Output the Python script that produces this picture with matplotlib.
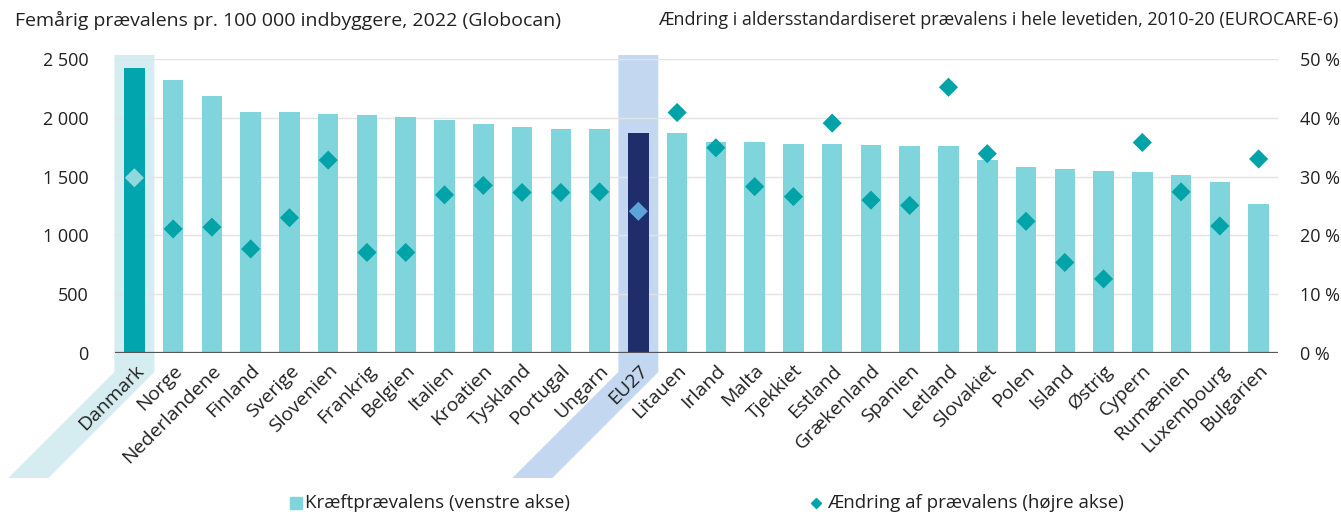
import matplotlib
matplotlib.use("Agg")
import matplotlib.pyplot as plt
from matplotlib.patches import Polygon
from matplotlib.lines import Line2D

plt.rcParams['font.family'] = ['Open Sans', 'DejaVu Sans']

countries = ["Danmark", "Norge", "Nederlandene", "Finland", "Sverige", "Slovenien",
             "Frankrig", "Belgien", "Italien", "Kroatien", "Tyskland", "Portugal",
             "Ungarn", "EU27", "Litauen", "Irland", "Malta", "Tjekkiet", "Estland",
             "Grækenland", "Spanien", "Letland", "Slovakiet", "Polen", "Island",
             "Østrig", "Cypern", "Rumænien", "Luxembourg", "Bulgarien"]
prevalence = [2423, 2319, 2185, 2052, 2046, 2032, 2024, 2007, 1984, 1950, 1922, 1907,
              1902, 1873, 1873, 1797, 1794, 1777, 1777, 1766, 1760, 1760, 1641, 1584,
              1567, 1550, 1542, 1514, 1457, 1267]
change_pct = [29.8, 21.1, 21.4, 17.7, 23.0, 32.8, 17.1, 17.1, 26.9, 28.5, 27.3, 27.3,
              27.4, 24.1, 40.9, 34.9, 28.3, 26.6, 39.1, 26.0, 25.1, 45.2, 33.9, 22.4,
              15.4, 12.6, 35.8, 27.4, 21.6, 33.0]
left_ticks = [0, 500, 1000, 1500, 2000, 2500]
right_ticks = [0, 10, 20, 30, 40, 50]

c_bar = "#80d5dc"
c_dk_bar = "#00a5ad"
c_eu_bar = "#1f2d6b"
c_dia = "#00a3a8"
c_dk_dia = "#8dd9de"
c_eu_dia = "#5ba3d9"
c_dk_band = "#d5ecf0"
c_eu_band = "#c4d7f0"
txt = "#222222"

W, H = 1341, 512
fig = plt.figure(figsize=(W / 100, H / 100), dpi=100)
ax = fig.add_axes([115 / W, 1 - 353 / H, (1278 - 115) / W, (353 - 59) / H])
ax.set_facecolor("none")
ax2 = ax.twinx()

x = list(range(len(countries)))
bar_colors = [c_bar] * len(countries)
bar_colors[countries.index("Danmark")] = c_dk_bar
bar_colors[countries.index("EU27")] = c_eu_bar
ax.bar(x, prevalence, width=0.53, color=bar_colors, zorder=2)

ax.set_xlim(-0.5, len(countries) - 0.5)
ax.set_ylim(0, 2500)
ax.set_yticks(left_ticks)
ax.set_yticklabels([f"{v:,}".replace(",", " ") for v in left_ticks])
ax.grid(axis="y", color="#e3e3e3", linewidth=1, zorder=0)
ax.set_axisbelow(True)
ax.axhline(0, color="#555555", linewidth=1.6, zorder=3)
ax.set_xticks(x)
ax.set_xticklabels(countries, rotation=45, ha="right", rotation_mode="anchor")

dia_colors = [c_dia] * len(countries)
dia_colors[countries.index("Danmark")] = c_dk_dia
dia_colors[countries.index("EU27")] = c_eu_dia
ax2.scatter(x, change_pct, marker="D", s=95, c=dia_colors, linewidths=0, zorder=4)
ax2.set_ylim(0, 50)
ax2.set_yticks(right_ticks)
ax2.set_yticklabels([f"{v} %" for v in right_ticks])

for a in (ax, ax2):
    for s in a.spines.values():
        s.set_visible(False)
    a.tick_params(length=0, labelsize=13, colors=txt)
ax.tick_params(axis="y", pad=19)
ax.tick_params(axis="x", pad=6, labelsize=14)
ax2.tick_params(axis="y", pad=16)

# highlight bands behind Danmark and EU27, following the slanted labels
fig.canvas.draw()
for name, col in (("Danmark", c_dk_band), ("EU27", c_eu_band)):
    xc = ax.transData.transform((countries.index(name), 0))[0]
    hw = 20
    top, bend, bot = H - 55, H - 372, H - 478
    shift = bend - bot
    pts = [(xc - hw, top), (xc + hw, top), (xc + hw, bend),
           (xc + hw - shift, bot), (xc - hw - shift, bot), (xc - hw, bend)]
    pts = [(px / W, py / H) for px, py in pts]
    fig.patches.append(Polygon(pts, closed=True, facecolor=col, edgecolor="none",
                               transform=fig.transFigure, zorder=-1))

fig.text(15 / W, 1 - 20 / H, "Femårig prævalens pr. 100 000 indbyggere, 2022 (Globocan)",
         fontsize=14, color=txt, ha="left", va="center")
fig.text(1338 / W, 1 - 20 / H,
         "Ændring i aldersstandardiseret prævalens i hele levetiden, 2010-20 (EUROCARE-6)",
         fontsize=13, color=txt, ha="right", va="center")

# legend
ly = 1 - 503 / H
fig.add_artist(Line2D([296 / W], [ly], marker="s", markersize=8, color=c_bar,
                      linestyle="none", transform=fig.transFigure))
fig.text(305 / W, ly, "Kræftprævalens (venstre akse)", fontsize=13.5, color=txt,
         ha="left", va="center")
fig.add_artist(Line2D([816 / W], [ly], marker="D", markersize=5, color=c_dia,
                      linestyle="none", transform=fig.transFigure))
fig.text(827 / W, ly, "Ændring af prævalens (højre akse)", fontsize=13.5, color=txt,
         ha="left", va="center")

fig.savefig("out.png", dpi=100)
